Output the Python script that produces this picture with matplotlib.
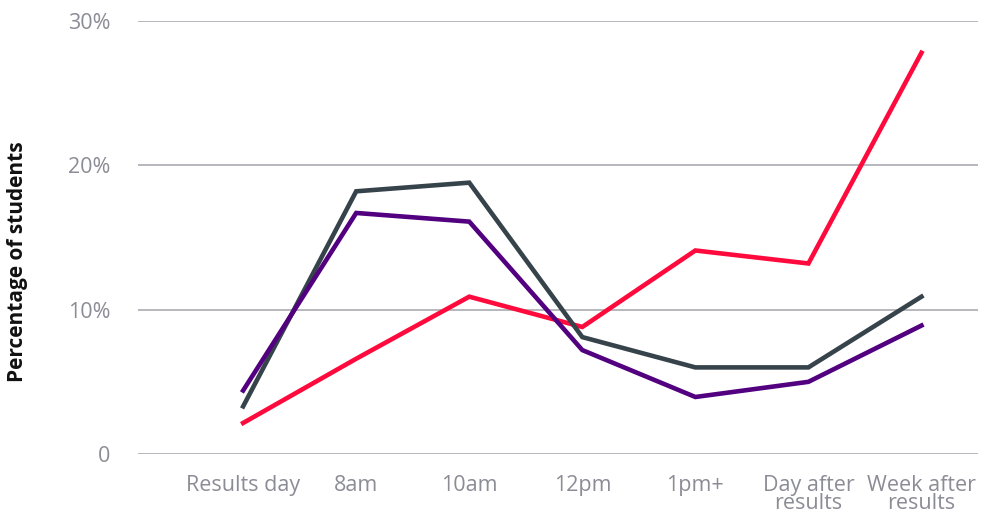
import matplotlib
matplotlib.use("Agg")
import matplotlib.pyplot as plt

categories = ["Results day", "8am", "10am", "12pm", "1pm+", "Day after\nresults", "Week after\nresults"]
series_red = [2.15, 6.6, 10.9, 8.8, 14.1, 13.2, 27.8]
series_dark = [3.3, 18.2, 18.8, 8.1, 6.0, 6.0, 10.9]
series_purple = [4.4, 16.7, 16.1, 7.2, 3.95, 5.0, 8.9]
y_ticks = [0, 10, 20, 30]
y_tick_labels = ["0", "10%", "20%", "30%"]

plt.rcParams["font.family"] = ["Open Sans", "DejaVu Sans"]

fig = plt.figure(figsize=(9.95, 5.13), dpi=100)
ax = fig.add_axes([138 / 995, 59 / 513, 840 / 995, 433 / 513])

x = list(range(len(categories)))
lw = 3.3
ax.plot(x, series_red, color="#FF0A3C", lw=lw, solid_joinstyle="miter", zorder=3)
ax.plot(x, series_dark, color="#36434B", lw=lw, solid_joinstyle="miter", zorder=4)
ax.plot(x, series_purple, color="#520080", lw=lw, solid_joinstyle="miter", zorder=5)

ax.set_xlim(-0.93, 6.5)
ax.set_ylim(0, 30)
ax.set_yticks(y_ticks)
ax.set_yticklabels(y_tick_labels)
ax.set_xticks(x)
ax.set_xticklabels(categories, linespacing=0.85)

ax.grid(axis="y", color="#A3A3AB", lw=1.1)
ax.set_axisbelow(True)
for s in ax.spines.values():
    s.set_visible(False)
ax.tick_params(axis="both", length=0, colors="#8C8C96", labelsize=15.5)
ax.tick_params(axis="y", pad=20)
ax.tick_params(axis="x", pad=15)

fig.text(18 / 995, 251.5 / 513, "Percentage of students", rotation=90,
         ha="center", va="center", fontsize=15, fontweight="bold", color="#111111")

fig.savefig("out.png", dpi=100)
